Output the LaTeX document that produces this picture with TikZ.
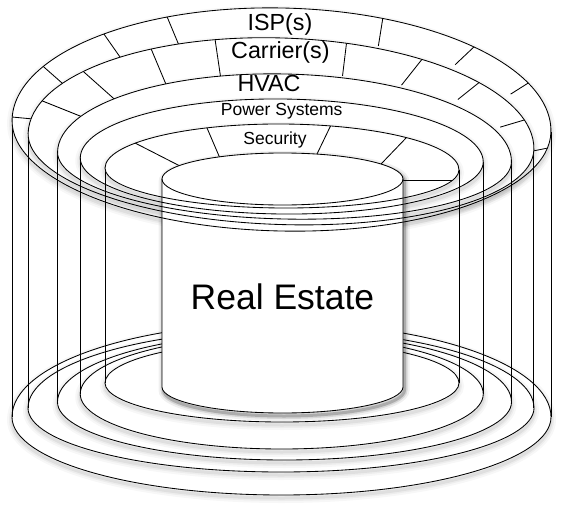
\documentclass[tikz,border=0pt]{standalone}
\usepackage{fontspec}
\setmainfont{Liberation Sans}
\usetikzlibrary{calc}
\tikzset{
  edge/.style={draw=black, line width=0.85pt},
  ringshadow/.style={
    preaction={draw=black, line width=10pt, opacity=0.03, transform canvas={yshift=-3pt}},
    preaction={draw=black, line width=6pt, opacity=0.04, transform canvas={yshift=-3pt}},
    preaction={draw=black, line width=3pt, opacity=0.06, transform canvas={yshift=-3pt}}},
  cylshadow/.style={
    preaction={draw=black, line width=10pt, opacity=0.06, transform canvas={xshift=1.5pt,yshift=-3pt}},
    preaction={draw=black, line width=6pt, opacity=0.1, transform canvas={xshift=1.5pt,yshift=-3pt}},
    preaction={draw=black, line width=3pt, opacity=0.2, transform canvas={xshift=1.5pt,yshift=-3pt}}},
  lbl/.style={inner sep=0pt, anchor=base},
  big/.style={font=\fontsize{23.3}{28}\selectfont},
  small/.style={font=\fontsize{17.5}{21}\selectfont},
}
\newcommand\ovl[3]{(-#1,0) arc[start angle=180,end angle=360,x radius=#1,y radius=#2] arc[start angle=0,end angle=180,x radius=#1,y radius=#3] -- cycle}
\newcommand\dv[2]{\draw[edge] ($(#1)!-4pt!(#2)$) -- ($(#2)!-4pt!(#1)$);}
\begin{document}
\begin{tikzpicture}[x=1pt,y=-1pt]
\useasboundingbox[fill=white] (0,0) rectangle (562,511);

% ---------- Layer 1 : ISP(s)
\filldraw[fill=white, edge, ringshadow, shift={(281.5,417)}] \ovl{269.5}{94}{78};
\coordinate (B1L) at (12,417); \coordinate (B1R) at (551,417);
\path[shift={(281.5,126)},rotate=-1.3] (-269.5,0) coordinate (T1L) (269.5,0) coordinate (T1R);
\draw[edge] (T1L) -- (T1L |- B1L);
\draw[edge] (T1R) -- (T1R |- B1R);
\filldraw[fill=white, edge, ringshadow, shift={(281.5,126)}, rotate=-1.3] \ovl{269.5}{118}{105};
\begin{scope}
\clip[shift={(281.5,126)}, rotate=-1.3] \ovl{269.5}{118}{105};
\dv{168,19}{178,43}
\dv{106,37}{120,57}
\dv{45,68}{62,83}
\dv{12,117}{33,119}
\dv{383,17}{379,42}
\dv{476,45}{458,62}
\dv{533,80}{514,92}
\dv{548,148}{533,151}
\end{scope}
\node[lbl, big] (isp) at (280,31) {ISP(s)};

% ---------- Layer 2 : Carrier(s)
\filldraw[fill=white, edge, ringshadow, shift={(281,408)}] \ovl{253}{78}{64};
\coordinate (B2L) at (28,408); \coordinate (B2R) at (534,408);
\path[shift={(281,141.5)},rotate=-1.9] (-253,0) coordinate (T2L) (253,0) coordinate (T2R);
\draw[edge] (T2L) -- (T2L |- B2L);
\draw[edge] (T2R) -- (T2R |- B2R);
\filldraw[fill=white, edge, ringshadow, shift={(281,141.5)}, rotate=-1.9] \ovl{253}{103.5}{83};
\begin{scope}
\clip[shift={(281,141.5)}, rotate=-1.9] \ovl{253}{103.5}{83};
\dv{215,39}{220,73}
\dv{152,51}{165,82}
\dv{85,73}{112,97}
\dv{45,102}{80,116}
\dv{347,39}{343,72}
\dv{427,53}{404,82}
\dv{486,77}{461,97}
\dv{531,118}{504,126}
\end{scope}
\node[lbl, big] (carrier) at (280.4,59) {Carrier(s)};

% ---------- Layer 3 : HVAC
\filldraw[fill=white, edge, ringshadow, shift={(284.5,402)}] \ovl{227}{69}{58};
\coordinate (B3L) at (57.5,402); \coordinate (B3R) at (511.5,402);
\path[shift={(284.5,157)},rotate=-1.3] (-227,0) coordinate (T3L) (227,0) coordinate (T3R);
\draw[edge] (T3L) -- (T3L |- B3L);
\draw[edge] (T3R) -- (T3R |- B3R);
\filldraw[fill=white, edge, ringshadow, shift={(284.5,157)}, rotate=-1.3] \ovl{227}{83}{62};
\node[lbl, big] (hvac) at (269,92) {HVAC};

% ---------- Layer 4 : Power Systems
\filldraw[fill=white, edge, ringshadow, shift={(281.75,394)}] \ovl{201.5}{58.5}{55};
\coordinate (B4L) at (80.25,394); \coordinate (B4R) at (483.25,394);
\path[shift={(281.75,160)},rotate=-0.6] (-201.5,0) coordinate (T4L) (201.5,0) coordinate (T4R);
\draw[edge] (T4L) -- (T4L |- B4L);
\draw[edge] (T4R) -- (T4R |- B4R);
\filldraw[fill=white, edge, ringshadow, shift={(281.75,160)}, rotate=-0.6] \ovl{201.5}{61}{54};
\node[lbl, small] (power) at (281.7,115) {Power Systems};

% ---------- Layer 5 : Security
\filldraw[fill=white, edge, ringshadow, shift={(282,383)}] \ovl{177}{42}{39};
\coordinate (B5L) at (105,383); \coordinate (B5R) at (459,383);
\path[shift={(282,169)},rotate=-0.3] (-177,0) coordinate (T5L) (177,0) coordinate (T5R);
\draw[edge] (T5L) -- (T5L |- B5L);
\draw[edge] (T5R) -- (T5R |- B5R);
\filldraw[fill=white, edge, ringshadow, shift={(282,169)}, rotate=-0.3] \ovl{177}{45}{39};
\begin{scope}
\clip[shift={(282,169)}, rotate=-0.3] \ovl{177}{45}{39};
\dv{207,128}{219,156}
\dv{135,143}{178,165}
\dv{331,125}{317,154}
\dv{407,137}{382,163}
\dv{395,180}{452,180}
\end{scope}
\node[lbl, small] (security) at (275,144) {Security};

% ---------- Cylinder : Real Estate
\filldraw[fill=white, edge, cylshadow] (162,179) -- (162,387)
  arc[start angle=180,end angle=0,x radius=120.5,y radius=26] -- (403,179)
  arc[start angle=0,end angle=-180,x radius=120.5,y radius=26] -- cycle;
\draw[edge] (162,179) arc[start angle=180,end angle=0,x radius=120.5,y radius=26];

% ring front edges passing over the cylinder
\begin{scope}
\clip (162,179) arc[start angle=180,end angle=0,x radius=120.5,y radius=26] -- (403,420) -- (162,420) -- cycle;
\draw[edge, shift={(281.5,126)}, rotate=-1.3] (269.5,0) arc[start angle=0,end angle=180,x radius=269.5,y radius=105];
\draw[edge, shift={(281,141.5)}, rotate=-1.9] (253,0) arc[start angle=0,end angle=180,x radius=253,y radius=83];
\draw[edge, shift={(284.5,157)}, rotate=-1.3] (227,0) arc[start angle=0,end angle=180,x radius=227,y radius=62];
\draw[edge, shift={(281.75,160)}, rotate=-0.6] (201.5,0) arc[start angle=0,end angle=180,x radius=201.5,y radius=54];
\draw[edge, shift={(282,169)}, rotate=-0.3] (177,0) arc[start angle=0,end angle=180,x radius=177,y radius=39];
\end{scope}

\node[lbl, font=\fontsize{35.5}{42}\selectfont] (realestate) at (282.5,309) {Real Estate};
\end{tikzpicture}
\end{document}
